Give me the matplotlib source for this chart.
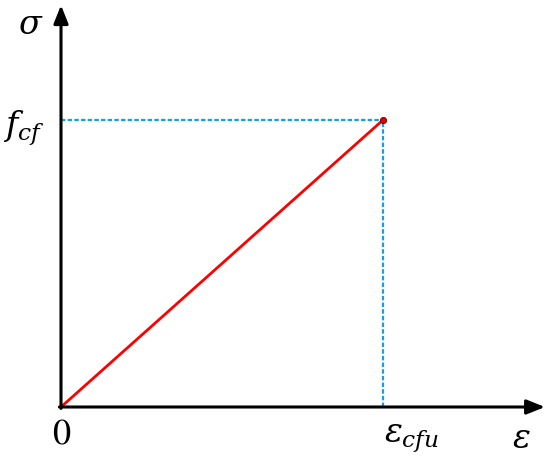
import matplotlib
matplotlib.use("Agg")
import matplotlib.pyplot as plt

plt.rcParams['mathtext.fontset'] = 'dejavuserif'
plt.rcParams['font.family'] = 'DejaVu Serif'

# normalised stress-strain values
strain = [0.0, 1.0]
stress = [0.0, 1.0]
eps_cfu = strain[-1]
f_cf = stress[-1]
x_end = 1.503
y_end = 1.40

fig = plt.figure(figsize=(5.5, 4.69), dpi=100)
ax = fig.add_axes([0, 0, 1, 1])
ax.set_xlim(-61 / 322, 489 / 322)
ax.set_ylim(-62 / 287, 407 / 287)
ax.axis('off')

# axes with arrows
arrow = dict(arrowstyle='-|>,head_length=0.5,head_width=0.2', color='black', lw=2.2,
             mutation_scale=22, shrinkA=0, shrinkB=0)
ax.annotate('', xy=(x_end, 0), xytext=(-0.005, 0), arrowprops=arrow)
ax.annotate('', xy=(0, y_end), xytext=(0, -0.005), arrowprops=arrow)

# dotted guides
blue = '#1b9de2'
ax.plot([0, eps_cfu], [f_cf, f_cf], ls=(0, (2, 1)), color=blue, lw=1.6)
ax.plot([eps_cfu, eps_cfu], [0, f_cf], ls=(0, (2, 1)), color=blue, lw=1.6)

# linear response
ax.plot(strain, stress, color='#ff0000', lw=2.0, solid_capstyle='round')
ax.plot([eps_cfu], [f_cf], 'o', ms=4.5, color='#e00000', mec='#700000', mew=0.6)

fs = 24
ax.text(-0.095, 1.33, r'$\sigma$', fontsize=fs, ha='center', va='center')
ax.text(-0.115, 0.97, r'$f_{cf}$', fontsize=fs, ha='center', va='center')
ax.text(0.0, -0.1, '0', fontsize=fs + 2, ha='center', va='center', family='STIXGeneral')
ax.text(eps_cfu + 0.09, -0.11, r'$\varepsilon_{cfu}$', fontsize=fs, ha='center', va='center')
ax.text(1.43, -0.11, r'$\varepsilon$', fontsize=fs, ha='center', va='center')

fig.savefig('out.png', dpi=100)
